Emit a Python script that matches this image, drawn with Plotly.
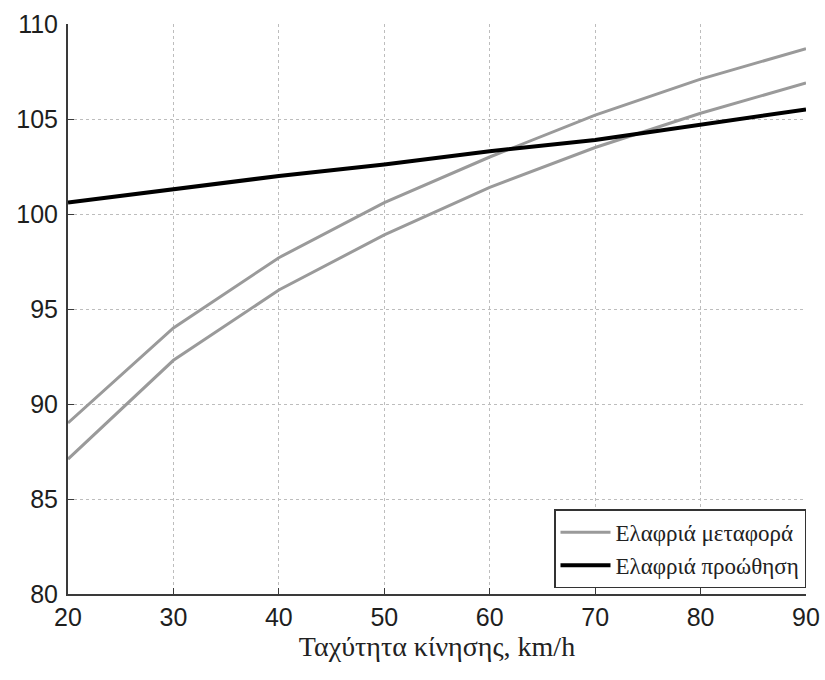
import plotly.graph_objects as go

speed = [20, 30, 40, 50, 60, 70, 80, 90]
transport_upper = [89.0, 94.0, 97.7, 100.6, 103.0, 105.2, 107.1, 108.7]
transport_lower = [87.1, 92.3, 96.0, 98.9, 101.4, 103.5, 105.3, 106.9]
push = [100.6, 101.3, 102.0, 102.6, 103.3, 103.9, 104.7, 105.5]

x_ticks = [20, 30, 40, 50, 60, 70, 80, 90]
y_ticks = [80, 85, 90, 95, 100, 105, 110]

gray = "#9a9a9a"
fig = go.Figure()
fig.add_trace(go.Scatter(x=speed, y=transport_upper, mode="lines",
                         line=dict(color=gray, width=3), name="Ελαφριά μεταφορά",
                         legendgroup="t"))
fig.add_trace(go.Scatter(x=speed, y=transport_lower, mode="lines",
                         line=dict(color=gray, width=3), name="Ελαφριά μεταφορά",
                         legendgroup="t", showlegend=False))
fig.add_trace(go.Scatter(x=speed, y=push, mode="lines",
                         line=dict(color="black", width=4), name="Ελαφριά προώθηση"))

axis_common = dict(
    showgrid=True, gridcolor="#bdbdbd", griddash="dot", gridwidth=1,
    showline=True, linecolor="#3a3a3a", linewidth=2,
    ticks="inside", ticklen=6, tickcolor="#3a3a3a",
    tickfont=dict(family="Liberation Sans, Arial", size=25, color="#1e1e1e"),
    zeroline=False, mirror=False, automargin=False,
)
fig.update_layout(
    width=825, height=680,
    margin=dict(l=68, r=19, t=24, b=86),
    plot_bgcolor="white", paper_bgcolor="white",
    xaxis=dict(range=[20, 90], tickvals=x_ticks, **axis_common,
               title=dict(text="Ταχύτητα κίνησης, km/h",
                          font=dict(family="Liberation Serif, Times New Roman", size=28, color="#222"),
                          standoff=4)),
    yaxis=dict(range=[80, 110], tickvals=y_ticks, ticklabelstandoff=3, **axis_common),
    legend=dict(x=1, y=0.01, xanchor="right", yanchor="bottom",
                bordercolor="#333", borderwidth=1.5, bgcolor="white",
                font=dict(family="Liberation Serif, Times New Roman", size=23, color="#222"),
                tracegroupgap=0, itemwidth=50),
    showlegend=True,
)
fig.write_html("out.html")
